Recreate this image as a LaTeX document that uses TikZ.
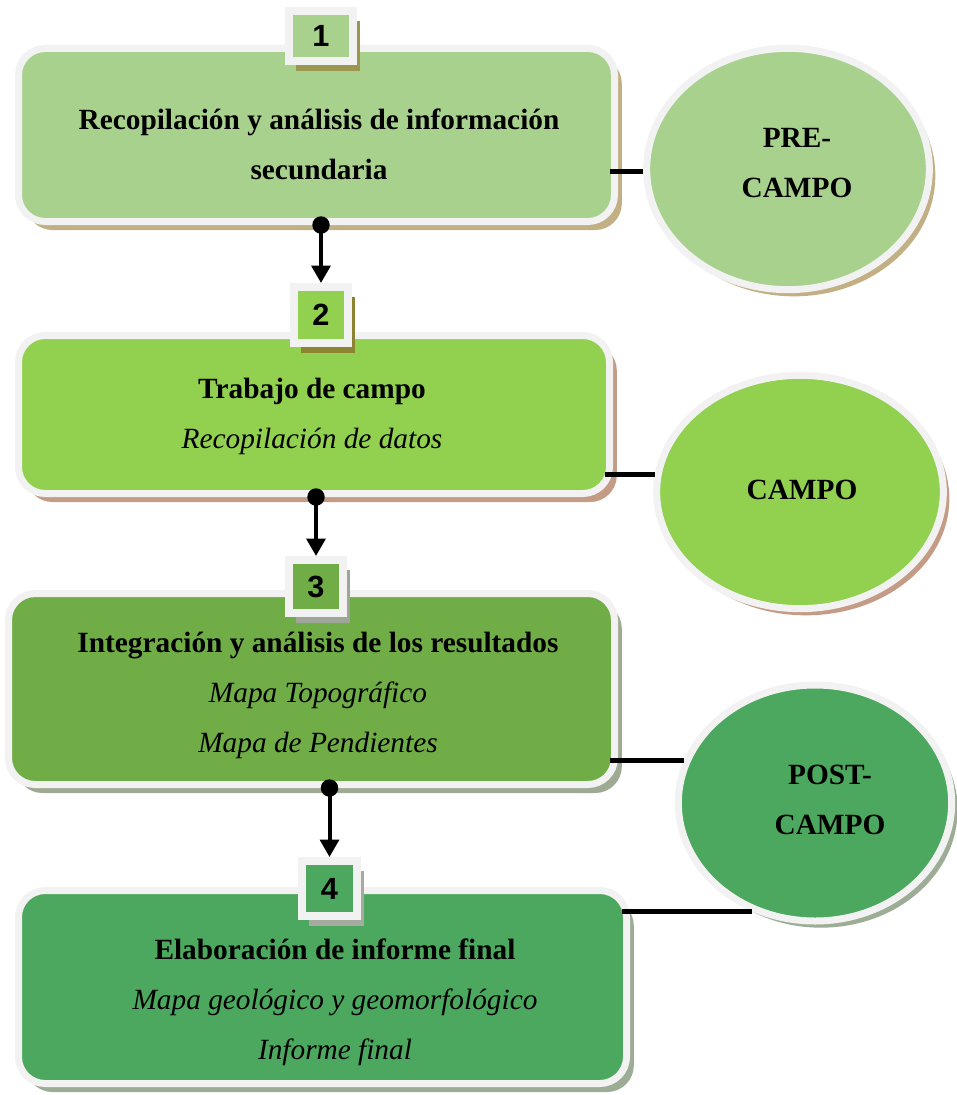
\documentclass[tikz,border=0pt]{standalone}
\usepackage{fontspec}
\setmainfont{Liberation Serif}
\newfontfamily\numfont{Liberation Sans}
\usetikzlibrary{shapes.geometric,shadows,arrows.meta}

\definecolor{borde}{HTML}{F2F2F2}
\definecolor{verdeA}{HTML}{A9D18E}
\definecolor{verdeB}{HTML}{92D050}
\definecolor{verdeC}{HTML}{70AD47}
\definecolor{verdeD}{HTML}{4CA85E}
\definecolor{sombraA}{HTML}{C2B084}
\definecolor{sombraB}{HTML}{C49C85}
\definecolor{sombraC}{HTML}{9FAA94}
\definecolor{sombraD}{HTML}{9DAD95}
\definecolor{numsomA}{HTML}{9B9650}
\definecolor{numsomB}{HTML}{8C8432}
\definecolor{numsomC}{HTML}{A0A59A}
\definecolor{numsomD}{HTML}{A6ABA2}

\newcommand\textocaja{\fontsize{22}{37.5}\selectfont}

\tikzset{
  caja/.style 2 args={draw=borde,line width=5.25pt,rounded corners=20pt,fill=#1,
    drop shadow={shadow xshift=5.5pt,shadow yshift=-6.4pt,opacity=1,fill=#2}},
  numero/.style 2 args={draw=borde,line width=6pt,fill=#1,inner sep=0pt,
    font=\numfont\bfseries\fontsize{23}{23}\selectfont,
    drop shadow={shadow xshift=5pt,shadow yshift=-7.5pt,opacity=1,fill=#2}},
  elipse/.style 2 args={ellipse,draw=borde,line width=5.25pt,fill=#1,inner sep=0pt,
    drop shadow={shadow xshift=4.5pt,shadow yshift=-5pt,opacity=1,fill=#2}},
  texto/.style={align=center,inner sep=0pt,font=\textocaja},
  enlace/.style={line width=3.75pt,shorten >=-6pt},
  flecha/.style={line width=3pt,{Circle[length=13pt]}-{Triangle[width=14pt,length=13pt]},shorten <=-6.5pt}
}

\begin{document}
\begin{tikzpicture}[x=0.75pt,y=-0.75pt]
\useasboundingbox (0,0) rectangle (956,1095);

%CAJAS
\node[caja={verdeA}{sombraA},minimum width=447pt,minimum height=129.75pt] (caja1) at (316.5,135) {};
\node[caja={verdeB}{sombraB},minimum width=443.25pt,minimum height=118.5pt] (caja2) at (314,414.5) {};
\node[caja={verdeC}{sombraC},minimum width=454.5pt,minimum height=143.25pt] (caja3) at (311.5,689) {};
\node[caja={verdeD}{sombraD},minimum width=456pt,minimum height=144.75pt] (caja4) at (322.5,987) {};

%numeros
\node[numero={verdeA}{numsomA},minimum width=48pt,minimum height=37.5pt] (num1) at (321,36) {1};
\node[numero={verdeB}{numsomB},minimum width=40.5pt,minimum height=42pt] (num2) at (321,315) {2};
\node[numero={verdeC}{numsomC},minimum width=40.5pt,minimum height=39.75pt] (num3) at (316,586.5) {3};
\node[numero={verdeD}{numsomD},minimum width=41.25pt,minimum height=41.25pt] (num4) at (329.5,888.5) {4};

%textos
\node[texto] (t1) at (319,144) {\textbf{Recopilación y análisis de información}\\\textbf{secundaria}};
\node[texto] (t2) at (312,416) {\textbf{Trabajo de campo}\\\textit{Recopilación de datos}};
\node[texto] (t3) at (318,695) {\textbf{Integración y análisis de los resultados}\\\textit{Mapa Topográfico}\\\textit{Mapa de Pendientes}};
\node[texto] (t4) at (335,1002) {\textbf{Elaboración de informe final}\\\textit{Mapa geológico y geomorfológico}\\\textit{Informe final}};

%ETAPAS
\node[elipse={verdeA}{sombraA},minimum width=212pt,minimum height=181pt] (pre) at (788,169) {};
\node[elipse={verdeB}{sombraB},minimum width=215pt,minimum height=175pt] (campo) at (800,492) {};
\node[elipse={verdeD}{sombraD},minimum width=205pt,minimum height=177pt] (post) at (815,803) {};
\node[texto,font=\textocaja\bfseries] (tpre) at (797,163) {PRE-\\CAMPO};
\node[texto,font=\textocaja\bfseries] (tcampo) at (802,490) {CAMPO};
\node[texto,font=\textocaja\bfseries] (tpost) at (830,800) {POST-\\CAMPO};

%enlaces
\draw[enlace] (pre.181) -- (pre.181 -| caja1.east);
\draw[enlace] (campo.173) -- (campo.173 -| caja2.east);
\draw[enlace] (post.162) -- (post.162 -| caja3.east);
\draw[enlace] (post.240) -- (post.240 -| caja4.east);

%flechas
\draw[flecha] (num2.north |- caja1.south) -- (num2.north);
\draw[flecha] (num3.north |- caja2.south) -- (num3.north);
\draw[flecha] (num4.north |- caja3.south) -- (num4.north);
\end{tikzpicture}
\end{document}
